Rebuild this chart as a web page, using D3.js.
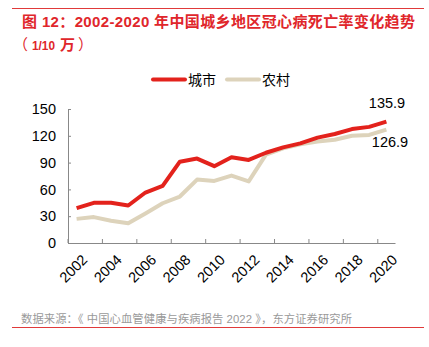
<!DOCTYPE html>
<html><head><meta charset="utf-8">
<script src="https://cdn.jsdelivr.net/npm/d3@7"></script>
<style>
body{margin:0;background:#fff;position:relative;}
svg{display:block;}
.rule{position:absolute;left:12px;width:412px;background:#e03a3a;}
text{font-family:"Liberation Sans","Noto Sans CJK SC",sans-serif;}
</style></head>
<body><div class="rule" style="top:8px;height:1px;"></div><div class="rule" style="top:327px;height:1px;"></div><svg id="c" width="429" height="347"></svg>
<script>
const years = [2002,2003,2004,2005,2006,2007,2008,2009,2010,2011,2012,2013,2014,2015,2016,2017,2018,2019,2020];
const urban = [39,45,45,42,56.5,64,91,94.5,86,96,93,101,107,111.5,118,122,127.5,130,135.9];
const rural = [27,29,25,22,33,44.5,52,71,69.5,75.5,69,99,106,110.5,113.5,115.5,120,121,126.9];
const yTicks = [0,30,60,90,120,150];
const seriesNames = ["城市","农村"];
const colors = ["#e3221c","#ddd3bb"];

const svg = d3.select("#c");
const cjk = '"Liberation Sans","Noto Sans CJK SC",sans-serif';
// top / bottom rules
svg.append("path").attr("d","M12,8.5H424").attr("stroke","#e03a3a").attr("stroke-width",1).attr("fill","none");
svg.append("path").attr("d","M12,327.5H424").attr("stroke","#e03a3a").attr("stroke-width",1).attr("fill","none");

svg.append("text").attr("x",22).attr("y",26.5).attr("fill","#e0262b").attr("font-size",15).attr("font-weight","bold")
  .attr("textLength",393).attr("lengthAdjust","spacing")
  .style("font-family",cjk).text("图 12：2002-2020 年中国城乡地区冠心病死亡率变化趋势");
const sub = svg.append("g").attr("fill","#e0262b").attr("font-size",15).attr("font-weight","bold").style("font-family",cjk);
sub.append("text").attr("x",13).attr("y",50).style("font-family",'"Noto Sans CJK SC"').attr("font-weight","normal").text("（");
sub.append("text").attr("x",32).attr("y",50).attr("font-size",13).attr("textLength",23).attr("lengthAdjust","spacingAndGlyphs").text("1/10");
sub.append("text").attr("x",60).attr("y",50).style("font-family",'"Noto Sans CJK SC"').text("万");
sub.append("text").attr("x",78).attr("y",50).style("font-family",'"Noto Sans CJK SC"').attr("font-weight","normal").text("）");

svg.append("text").attr("x",21).attr("y",323).attr("fill","#9a9a9a").attr("font-size",11.3)
  .attr("textLength",331).attr("lengthAdjust","spacing")
  .style("font-family",cjk).text("数据来源：《 中国心血管健康与疾病报告 2022 》，东方证券研究所");

const x = d3.scaleBand().domain(years).range([68,395]);
const y = d3.scaleLinear().domain([0,150]).range([243,109]);

// y axis
const ya = svg.append("g").attr("transform","translate(68,0)")
  .call(d3.axisLeft(y).tickValues(yTicks).tickSize(-3).tickPadding(12));
ya.select(".domain").attr("stroke","#888");
ya.selectAll(".tick line").attr("stroke","#888");
ya.selectAll("text").attr("font-size",14.5).attr("fill","#000").style("font-family","Liberation Sans");

// x axis
const xa = svg.append("g").attr("transform","translate(0,243)")
  .call(d3.axisBottom(x).tickValues([]).tickSizeOuter(0));
xa.select(".domain").attr("stroke","#888");
const tickYears = years.filter((d,i)=>i%2===0);
xa.selectAll(".tk").data(tickYears).enter().append("line")
  .attr("x1",d=>x(d)).attr("x2",d=>x(d)).attr("y1",0).attr("y2",-4).attr("stroke","#888");
xa.selectAll(".lb").data(tickYears).enter().append("text")
  .attr("transform",d=>`translate(${x(d)+x.bandwidth()/2+4},${10}) rotate(-45)`)
  .attr("text-anchor","end").attr("dy","0.75em").attr("font-size",14.5).attr("fill","#000")
  .style("font-family","Liberation Sans").text(d=>d);

const line = d3.line().x((d,i)=>x(years[i])+x.bandwidth()/2).y(d=>y(d));
[rural,urban].forEach((s,k)=>{
  const c = k===0?colors[1]:colors[0];
  svg.append("path").datum(s).attr("d",line).attr("fill","none").attr("stroke",c).attr("stroke-width",4).attr("stroke-linejoin","round");
});

// labels
svg.append("text").attr("x",387).attr("y",108).attr("text-anchor","middle").attr("font-size",14.5).text(urban[urban.length-1].toFixed(1));
svg.append("text").attr("x",390).attr("y",147).attr("text-anchor","middle").attr("font-size",14.5).text(rural[rural.length-1].toFixed(1));

// legend
const lg = [{n:seriesNames[0],c:colors[0],x:153},{n:seriesNames[1],c:colors[1],x:227}];
lg.forEach(d=>{
  svg.append("line").attr("x1",d.x).attr("x2",d.x+32).attr("y1",79.5).attr("y2",79.5).attr("stroke",d.c).attr("stroke-width",4).attr("stroke-linecap","round");
  svg.append("text").attr("x",d.x+35).attr("y",84.5).attr("font-size",14).style("font-family",'"Noto Sans CJK SC",sans-serif').text(d.n);
});
</script></body></html>
